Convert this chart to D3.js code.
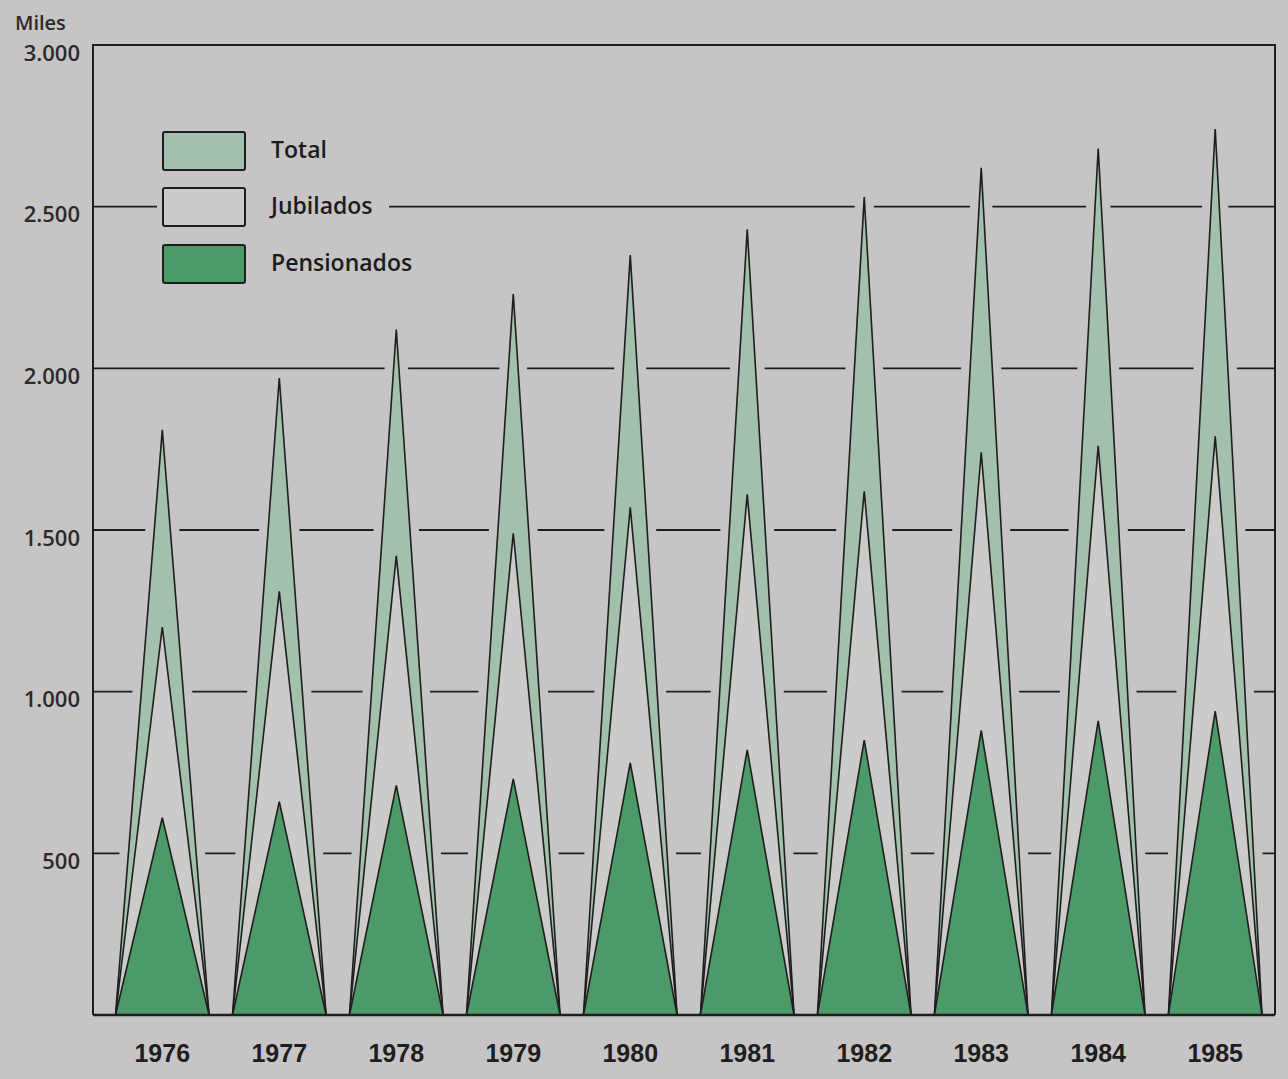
<!DOCTYPE html>
<html>
<head>
<meta charset="utf-8">
<script src="https://cdn.jsdelivr.net/npm/d3@7"></script>
<style>
  html, body { margin: 0; padding: 0; background: #c6c4c5; }
  svg { display: block; }
</style>
</head>
<body>
<svg id="chart" width="1288" height="1079"></svg>
<script>
const years = ["1976","1977","1978","1979","1980","1981","1982","1983","1984","1985"];
const total = [1810, 1970, 2120, 2230, 2350, 2430, 2530, 2620, 2680, 2740];
const jubilados = [1200, 1310, 1420, 1490, 1570, 1610, 1620, 1740, 1760, 1790];
const pensionados = [610, 660, 710, 730, 780, 820, 850, 880, 910, 940];
const yTicks = [500, 1000, 1500, 2000, 2500, 3000];
const tickLabels = ["500", "1.000", "1.500", "2.000", "2.500", "3.000"];
const seriesNames = ["Total", "Jubilados", "Pensionados"];

const BG = "#c6c4c5";
const colors = { Total: "#a2c0ac", Jubilados: "#cbcbc9", Pensionados: "#4b9a68" };
const INK = "#1e1e1e";
const FONT = "'Open Sans', 'Liberation Sans', sans-serif";

const svg = d3.select("#chart");
const plotLeft = 93, plotRight = 1275, plotTop = 45, plotBottom = 1015;

const y = d3.scaleLinear().domain([0, 3000]).range([plotBottom, plotTop]);
const x = d3.scaleBand().domain(years).range([115.5, 1262]).paddingInner(0.2).paddingOuter(0);

// gridlines
svg.append("g").selectAll("line").data(yTicks.filter(t => t < 3000)).join("line")
  .attr("x1", plotLeft).attr("x2", plotRight)
  .attr("y1", d => y(d)).attr("y2", d => y(d))
  .attr("stroke", INK).attr("stroke-width", 1.8);

// legend (with blank backing that interrupts the gridline)
const legend = svg.append("g");
const legY = [132, 188, 245];
seriesNames.forEach((name, i) => {
  const g = legend.append("g").attr("transform", `translate(163,${legY[i]})`);
  g.append("rect").attr("x", -6).attr("y", -4).attr("width", 232).attr("height", 46).attr("fill", BG);
  g.append("rect").attr("x", 0).attr("y", 0).attr("width", 82).attr("height", 38)
    .attr("rx", 2).attr("fill", colors[name]).attr("stroke", INK).attr("stroke-width", 2);
  g.append("text").attr("x", 108).attr("y", 18).attr("dy", "0.35em")
    .attr("font-family", FONT).attr("font-weight", 600).attr("font-size", 23)
    .attr("fill", "#1c1c1c").text(name);
});

// triangles
function tri(i, v) {
  const x0 = x(years[i]), w = x.bandwidth();
  return [[x0, y(0)], [x0 + w / 2, y(v)], [x0 + w, y(0)]];
}
const line = d3.line();
const tg = svg.append("g");
// halo that breaks gridlines around each spike
tg.selectAll("path.halo").data(total).join("path")
  .attr("class", "halo")
  .attr("d", (d, i) => line(tri(i, d)) + "Z")
  .attr("fill", BG).attr("stroke", BG).attr("stroke-width", 18).attr("stroke-linejoin", "miter").attr("stroke-miterlimit", 2);

const layers = [["Total", total], ["Jubilados", jubilados], ["Pensionados", pensionados]];
layers.forEach(([name, arr]) => {
  tg.append("g").selectAll("path").data(arr).join("path")
    .attr("d", (d, i) => line(tri(i, d)) + "Z")
    .attr("fill", colors[name]).attr("stroke", INK).attr("stroke-width", 1.6)
    .attr("stroke-linejoin", "miter");
});

// frame
svg.append("path")
  .attr("d", `M${plotLeft},${plotBottom} L${plotLeft},${plotTop} L${plotRight},${plotTop} L${plotRight},${plotBottom}`)
  .attr("fill", "none").attr("stroke", INK).attr("stroke-width", 2);
svg.append("line").attr("x1", plotLeft).attr("x2", plotRight).attr("y1", plotBottom).attr("y2", plotBottom)
  .attr("stroke", INK).attr("stroke-width", 2.6);

// y-axis labels
svg.append("g").selectAll("text").data(yTicks).join("text")
  .attr("x", 80).attr("y", d => y(d) + 8).attr("dy", "0.35em")
  .attr("text-anchor", "end")
  .attr("font-family", FONT).attr("font-weight", 600).attr("font-size", 22)
  .attr("fill", "#2a2a2a")
  .text((d, i) => tickLabels[i]);

svg.append("text").attr("x", 15).attr("y", 23).attr("dy", "0.35em")
  .attr("font-family", FONT).attr("font-weight", 600).attr("font-size", 20)
  .attr("fill", "#2a2a2a").text("Miles");

// x-axis year labels
svg.append("g").selectAll("text").data(years).join("text")
  .attr("x", d => x(d) + x.bandwidth() / 2).attr("y", 1062)
  .attr("text-anchor", "middle")
  .attr("font-family", "'Liberation Sans', Arial, sans-serif").attr("font-weight", 700).attr("font-size", 25)
  .attr("fill", "#1e1e1e").text(d => d);
</script>
</body>
</html>
